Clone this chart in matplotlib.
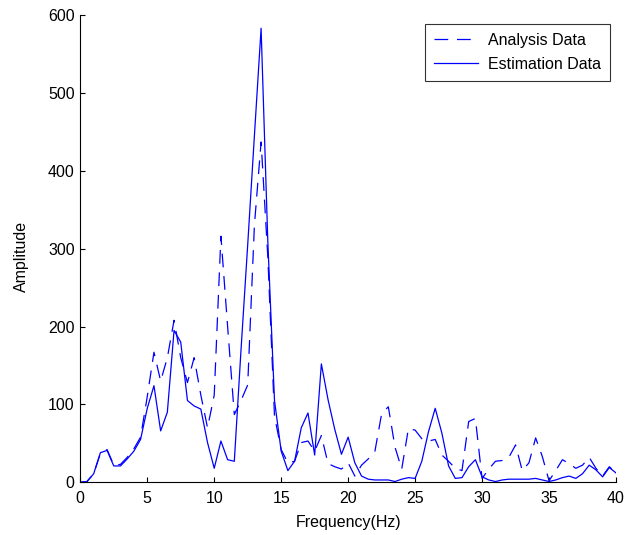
import numpy as np
import matplotlib
matplotlib.use("Agg")
import matplotlib.pyplot as plt

# frequency axis (0.5 Hz resolution)
freq = np.arange(0, 40.5, 0.5)

analysis = [0, 1, 11, 37, 42, 22, 23, 32, 43, 58,
            110, 167, 130, 160, 208, 160, 128, 160, 112, 70,
            112, 316, 200, 87, 105, 125, 330, 437, 290, 85,
            42, 25, 27, 51, 53, 40, 60, 24, 20, 17,
            25, 8, 22, 30, 40, 88, 97, 45, 17, 69,
            67, 56, 53, 55, 35, 27, 18, 15, 78, 82,
            5, 17, 27, 28, 32, 48, 15, 25, 57, 33,
            2, 15, 29, 24, 18, 22, 32, 18, 8, 20,
            12]

estimation = [0, 1, 11, 38, 41, 21, 21, 30, 40, 55,
              95, 124, 66, 90, 195, 180, 105, 98, 94, 51,
              18, 53, 29, 27, 170, 305, 445, 583, 310, 105,
              40, 15, 27, 70, 89, 35, 152, 106, 68, 36,
              58, 25, 8, 4, 3, 3, 3, 1, 4, 6,
              5, 27, 65, 95, 63, 21, 5, 6, 20, 29,
              7, 3, 1, 3, 4, 4, 4, 4, 5, 3,
              1, 3, 6, 8, 5, 11, 22, 16, 7, 19,
              12]

xticks = [0, 5, 10, 15, 20, 25, 30, 35, 40]
yticks = [0, 100, 200, 300, 400, 500, 600]

plt.rcParams['font.family'] = ['Liberation Sans', 'DejaVu Sans']
FS = 11.5

W, H = 637, 535
fig = plt.figure(figsize=(W / 100, H / 100), dpi=100)
x0, x1 = 80.3, 616.0
y0, y1 = 482.3, 15.0
ax = fig.add_axes([x0 / W, 1 - y0 / H, (x1 - x0) / W, (y0 - y1) / H])

blue = '#0000ff'
ax.plot(freq, analysis, color=blue, lw=0.9, dashes=(11, 7), label='Analysis Data')
ax.plot(freq, estimation, color=blue, lw=0.9, label='Estimation Data')

ax.set_xlim(0, 40)
ax.set_ylim(0, 600)
ax.set_xticks(xticks)
ax.set_yticks(yticks)
ax.tick_params(direction='in', length=3.6, width=0.8, labelsize=FS, colors='black')
ax.tick_params(axis='x', pad=6)
ax.tick_params(axis='y', pad=4)
for s in ['top', 'right']:
    ax.spines[s].set_visible(False)
for s in ['left', 'bottom']:
    ax.spines[s].set_linewidth(0.8)

fig.text(348.5 / W, 1 - 522 / H, 'Frequency(Hz)', ha='center', va='center', fontsize=FS)
fig.text(21.7 / W, 1 - 256.7 / H, 'Amplitude', ha='center', va='center', rotation=90, fontsize=FS)

ax_w = x1 - x0
ax_h = y0 - y1
leg = ax.legend(loc='upper right', bbox_to_anchor=((610 - x0) / ax_w, (y0 - 24.3) / ax_h),
                borderaxespad=0, fontsize=FS, frameon=True, fancybox=False,
                handlelength=2.8, handletextpad=0.62, labelspacing=0.55, borderpad=0.55)
leg.get_frame().set_edgecolor('black')
leg.get_frame().set_linewidth(0.8)

fig.savefig('out.png', dpi=100)
